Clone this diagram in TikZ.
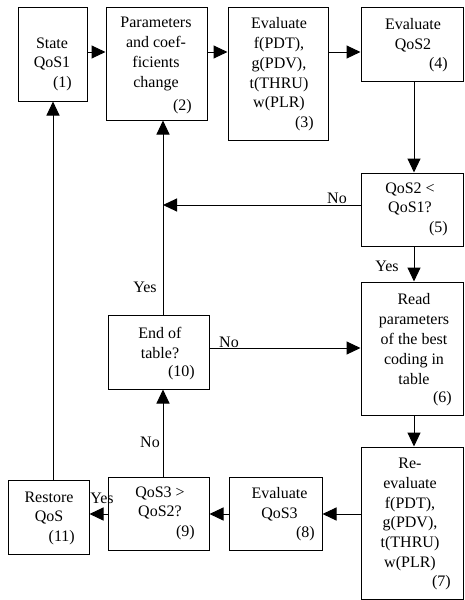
\documentclass[tikz,border=0pt]{standalone}
\usepackage{fontspec}
\setmainfont{Liberation Serif}
\usetikzlibrary{arrows.meta}
\begin{document}
\begin{tikzpicture}[x=1pt,y=-1pt,
  box/.style={draw,line width=1pt,rectangle,inner sep=0pt},
  txt/.style={align=center,inner sep=0pt,font=\fontsize{16}{19.8}\selectfont},
  num/.style={anchor=east,inner sep=0pt,font=\fontsize{16}{19.8}\selectfont},
  lbl/.style={inner sep=0pt,font=\fontsize{16}{19.8}\selectfont},
  arr/.style={line width=1pt,-{Triangle[length=14pt,width=13pt]}},
  ln/.style={line width=1pt}]
\useasboundingbox (0,0) rectangle (465,600);
% boxes
\node[box,minimum width=69pt,minimum height=94pt] (b1) at (52.5,54) {};
\node[box,minimum width=101pt,minimum height=113pt] (b2) at (156.5,63.5) {};
\node[box,minimum width=100pt,minimum height=133pt] (b3) at (278,73.5) {};
\node[box,minimum width=102pt,minimum height=74pt] (b4) at (412,44) {};
\node[box,minimum width=102pt,minimum height=73pt] (b5) at (412,209.5) {};
\node[box,minimum width=102pt,minimum height=133pt] (b6) at (412,348.5) {};
\node[box,minimum width=102pt,minimum height=152pt] (b7) at (412,523) {};
\node[box,minimum width=93pt,minimum height=73pt] (b8) at (275.5,513.5) {};
\node[box,minimum width=101pt,minimum height=73pt] (b9) at (158.5,513.5) {};
\node[box,minimum width=101pt,minimum height=74pt] (b10) at (158.5,352) {};
\node[box,minimum width=81pt,minimum height=74pt] (b11) at (48.5,517) {};
% texts
\node[txt] (t1) at (52,54) {State\\QoS1};
\node[num] (n1) at (72,84) {(1)};
\node[txt] (t2) at (156,54) {Parameters\\and coef-\\ficients\\change};
\node[num] (n2) at (192,107) {(2)};
\node[txt] (t3) at (279,64.5) {Evaluate\\f(PDT),\\g(PDV),\\t(THRU)\\w(PLR)};
\node[num] (n3) at (314,124) {(3)};
\node[txt] (t4) at (413,35) {Evaluate\\QoS2};
\node[num] (n4) at (448,65) {(4)};
\node[txt] (t5) at (410,199) {QoS2 <\\QoS1?};
\node[num] (n5) at (448,229) {(5)};
\node[txt] (t6) at (414,339) {Read\\parameters\\of the best\\coding in\\table};
\node[num] (n6) at (452,399) {(6)};
\node[txt] (t7) at (410,514.5) {Re-\\evaluate\\f(PDT),\\g(PDV),\\t(THRU)\\w(PLR)};
\node[num] (n7) at (451,583) {(7)};
\node[txt] (t8) at (279.5,504) {Evaluate\\QoS3};
\node[num] (n8) at (315,534) {(8)};
\node[txt] (t9) at (160,503) {QoS3 >\\QoS2?};
\node[num] (n9) at (195,533) {(9)};
\node[txt] (t10) at (160,343) {End of\\table?};
\node[num] (n10) at (195,373) {(10)};
\node[txt] (t11) at (49,508) {Restore\\QoS};
\node[num] (n11) at (75,538) {(11)};
% helper coordinates
\coordinate (row) at (0,52);
\coordinate (col) at (163,0);
\coordinate (rcol) at (414,0);
\coordinate (lcol) at (53,0);
\coordinate (noRow) at (0,205);
\coordinate (tabRow) at (0,348);
\coordinate (botRow) at (0,514);
\coordinate (junc) at (163,205);
% connectors
\draw[arr] (b1.east |- row) -- (b2.west |- row);
\draw[arr] (b2.east |- row) -- (b3.west |- row);
\draw[arr] (b3.east |- row) -- (b4.west |- row);
\draw[arr] (b4.south -| rcol) -- (b5.north -| rcol);
\draw[arr] (b5.west |- noRow) -- (junc);
\draw[arr] (b10.north -| col) -- (b2.south -| col);
\draw[arr] (b5.south -| rcol) -- (b6.north -| rcol);
\draw[arr] (b10.east |- tabRow) -- (b6.west |- tabRow);
\draw[arr] (b6.south -| rcol) -- (b7.north -| rcol);
\draw[arr] (b7.west |- botRow) -- (b8.east |- botRow);
\draw[arr] (b8.west |- botRow) -- (b9.east |- botRow);
\draw[arr] (b9.west |- botRow) -- (b11.east |- botRow);
\draw[arr] (b9.north -| col) -- (b10.south -| col);
\draw[arr] (b11.north -| lcol) -- (b1.south -| lcol);
% labels
\node[lbl] (l1) at (337,198) {No};
\node[lbl] (l2) at (387,266) {Yes};
\node[lbl] (l3) at (145,287) {Yes};
\node[lbl] (l4) at (229,342) {No};
\node[lbl] (l5) at (150,442) {No};
\node[lbl] (l6) at (102,498) {Yes};
\end{tikzpicture}
\end{document}
